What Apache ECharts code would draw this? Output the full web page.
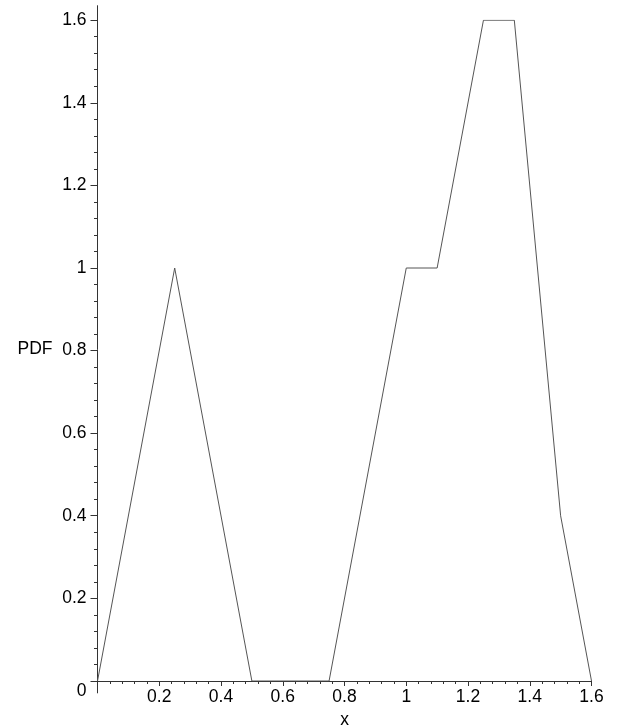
<!DOCTYPE html>
<html>
<head>
<meta charset="utf-8">
<script src="https://cdn.jsdelivr.net/npm/echarts@6/dist/echarts.min.js"></script>
<style>html,body{margin:0;padding:0;background:#fff}#c{width:617px;height:725px}</style>
</head>
<body>
<div id="c"></div>
<script>
const xValues = [0, 0.25, 0.5, 0.75, 1, 1.1, 1.25, 1.35, 1.5, 1.6];
const pdfValues = [0, 1, 0, 0, 1, 1, 1.6, 1.6, 0.4, 0];
const yMajorTicks = [0, 0.2, 0.4, 0.6, 0.8, 1, 1.2, 1.4, 1.6];
const yMinorTicks = [0.04,0.08,0.12,0.16,0.24,0.28,0.32,0.36,0.44,0.48,0.52,0.56,0.64,0.68,0.72,0.76,0.84,0.88,0.92,0.96,1.04,1.08,1.12,1.16,1.24,1.28,1.32,1.36,1.44,1.48,1.52,1.56];

const FONT = '"Liberation Sans", Arial, Helvetica, sans-serif';
const FS = 17.5;
const AX = '#333';
const chart = echarts.init(document.getElementById('c'));
chart.setOption({
  animation: false,
  grid: [
    { left: 97.5, top: 5.7, width: 494, height: 687.2, containLabel: false, outerBoundsMode: 'none' },
    { left: 97.5, top: 20.2, width: 494, height: 660.8, containLabel: false, outerBoundsMode: 'none' }
  ],
  xAxis: [{
    gridIndex: 1,
    type: 'value', min: 0, max: 1.6, interval: 0.2, position: 'bottom',
    name: 'x', nameLocation: 'middle', nameGap: 24,
    nameTextStyle: { fontFamily: FONT, fontSize: FS, color: '#000' },
    axisLine: { onZero: false, lineStyle: { color: AX, width: 1 } },
    axisTick: { show: true, inside: false, length: 5, lineStyle: { color: AX } },
    minorTick: { show: true, splitNumber: 5, length: 3, lineStyle: { color: AX } },
    splitLine: { show: false },
    axisLabel: { showMinLabel: false, margin: 7, fontFamily: FONT, fontSize: FS, color: '#000',
      formatter: v => (v === 0 ? '' : String(+v.toFixed(2))) }
  }, {
    gridIndex: 0, type: 'value', min: 0, max: 1, show: false
  }],
  yAxis: [{
    gridIndex: 0,
    type: 'value', min: -0.029, max: 1.635, position: 'left',
    name: 'PDF', nameLocation: 'middle', nameRotate: 0, nameGap: 45,
    nameTextStyle: { fontFamily: FONT, fontSize: FS, color: '#000', padding: [0, 0, 16, 0] },
    axisLine: { show: true, onZero: false, lineStyle: { color: AX, width: 1 } },
    axisTick: { show: true, length: 7, customValues: yMajorTicks, lineStyle: { color: AX } },
    splitLine: { show: false },
    axisLabel: { customValues: yMajorTicks, margin: 11, fontFamily: FONT, fontSize: FS, color: '#000',
      formatter: v => (Math.abs(v) < 1e-9 ? '{z|0}' : String(+v.toFixed(2))),
      rich: { z: { fontFamily: FONT, fontSize: FS, color: '#000', padding: [20, 0, 0, 0] } } }
  }, {
    gridIndex: 0,
    type: 'value', min: -0.029, max: 1.635, position: 'left',
    axisLine: { show: false, onZero: false },
    axisTick: { show: true, length: 3.5, customValues: yMinorTicks, lineStyle: { color: AX } },
    splitLine: { show: false },
    axisLabel: { show: false }
  }, {
    gridIndex: 1, type: 'value', min: 0, max: 1.6, show: false
  }],
  series: [{
    type: 'line',
    xAxisIndex: 0, yAxisIndex: 2,
    data: xValues.map((x, i) => [x, pdfValues[i]]),
    showSymbol: false, symbol: 'none',
    lineStyle: { color: '#555', width: 1 },
    silent: true
  }]
});
</script>
</body>
</html>
